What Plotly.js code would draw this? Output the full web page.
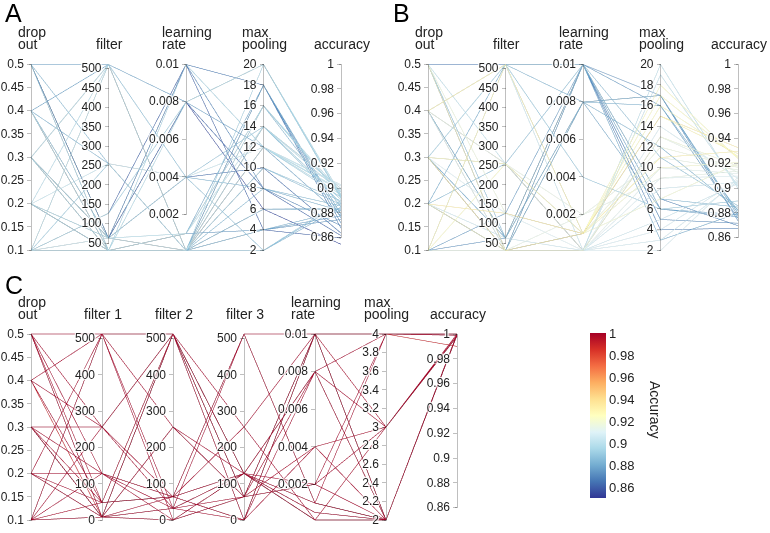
<!DOCTYPE html>
<html>
<head>
<meta charset="utf-8">
<script src="https://cdn.plot.ly/plotly-3.0.1.min.js"></script>
<style>
html,body{margin:0;padding:0;background:#fff;}
#wrap{position:relative;width:770px;height:533px;overflow:hidden;}
#pA{position:absolute;left:0;top:0;width:385px;height:270px;}
#pB{position:absolute;left:385px;top:0;width:385px;height:270px;}
#pC{position:absolute;left:0;top:270px;width:770px;height:263px;}
</style>
</head>
<body>
<div id="wrap"><div id="pA"></div><div id="pB"></div><div id="pC"></div></div>
<script>
// ---- Panel A ----
var aDrop   = [0.5,0.5,0.5,0.5,0.4,0.4,0.4,0.4,0.4,0.3,0.3,0.3,0.3,0.2,0.2,0.2,0.2,0.1,0.1,0.1,0.1,0.1,0.1,0.5,0.4,0.3,0.2,0.1,0.4,0.3,0.1,0.5,0.2,0.1,0.3,0.4,0.2,0.1,0.5,0.3];
var aFilter = [64,64,32,256,512,64,32,32,256,512,64,32,32,512,256,32,64,512,128,128,64,32,256,64,64,64,32,32,32,32,64,32,64,512,512,32,32,32,512,64];
var aLr     = [0.008,0.008,0.0001,0.0001,0.008,0.004,0.0001,0.001,0.004,0.0001,0.01,0.0001,0.001,0.0001,0.004,0.0001,0.001,0.0001,0.01,0.008,0.0001,0.0001,0.0001,0.01,0.0001,0.004,0.01,0.001,0.0001,0.008,0.0001,0.0001,0.0001,0.004,0.0001,0.0001,0.001,0.0001,0.0001,0.0001];
var aPool   = [6,8,18,16,12,14,12,14,8,20,18,10,4,14,12,2,16,12,4,20,14,6,2,8,18,10,12,16,4,20,12,14,8,2,12,6,18,10,4,16];
var aAcc    = [0.855,0.862,0.872,0.885,0.878,0.888,0.895,0.9,0.882,0.893,0.868,0.89,0.875,0.897,0.902,0.885,0.895,0.899,0.86,0.892,0.9,0.883,0.89,0.87,0.876,0.864,0.893,0.897,0.882,0.895,0.903,0.891,0.886,0.888,0.898,0.884,0.879,0.887,0.878,0.894];

// ---- Panel B ----
var bDrop   = [0.5,0.5,0.5,0.4,0.4,0.4,0.4,0.3,0.3,0.3,0.3,0.2,0.2,0.2,0.1,0.1,0.1,0.5,0.4,0.3,0.2,0.1,0.5,0.4,0.3,0.2,0.1,0.3,0.5,0.4,0.2,0.1,0.3,0.2,0.4,0.1,0.5,0.3];
var bFilter = [64,32,256,512,32,64,256,256,32,32,128,512,128,32,256,512,32,512,32,64,32,64,32,512,512,256,32,32,128,64,64,512,32,32,256,128,32,256];
var bLr     = [0.01,0.008,0.0001,0.001,0.01,0.008,0.002,0.001,0.01,0.001,0.0001,0.01,0.001,0.0001,0.001,0.008,0.0001,0.01,0.0001,0.008,0.001,0.01,0.0001,0.0001,0.004,0.01,0.002,0.0001,0.001,0.01,0.0001,0.001,0.008,0.0001,0.0001,0.01,0.001,0.0001];
var bPool   = [7,17,20,15,6,16,11,17,5,11,9,3,15,13,18,12,8,4,10,6,7,17,14,19,6,11,9,3,12,7,5,16,17,2,13,16,10,4];
var bAcc    = [0.885,0.878,0.9,0.928,0.877,0.882,0.915,0.925,0.872,0.93,0.91,0.88,0.933,0.918,0.924,0.883,0.905,0.868,0.912,0.879,0.92,0.874,0.908,0.902,0.89,0.886,0.914,0.906,0.917,0.87,0.904,0.926,0.88,0.909,0.913,0.876,0.921,0.907];

// ---- Panel C ----
var cDrop   = [0.5,0.5,0.5,0.5,0.4,0.4,0.4,0.3,0.3,0.3,0.3,0.3,0.2,0.2,0.2,0.2,0.1,0.1,0.1,0.1,0.1,0.1,0.5,0.2,0.4,0.3,0.1,0.5];
var cF1     = [512,8,48,128,512,256,8,256,128,8,48,8,512,128,8,48,512,256,128,8,48,8,8,8,48,8,512,256];
var cF2     = [512,256,64,32,0,32,512,512,64,64,512,32,256,0,512,64,32,512,64,256,512,0,512,32,64,0,512,64];
var cF3     = [64,128,0,512,64,128,0,128,256,512,64,128,64,128,256,0,64,0,128,64,128,64,128,0,512,128,64,128];
var cLr     = [0.01,0.008,0.01,0.001,0.002,0.0001,0.01,0.008,0.01,0.001,0.004,0.0005,0.01,0.001,0.0001,0.008,0.002,0.01,0.0005,0.008,0.0001,0.01,0.001,0.004,0.01,0.002,0.01,0.0001];
var cPool   = [4,2,3,2,3,2,4,2,4,2,3,2,2,4,2,3,4,2,2,4,3,2,2,2,4,2,4,2];
var cAcc    = [1.0,0.999,0.998,1.0,0.999,1.0,0.99,1.0,0.999,1.0,0.998,1.0,1.0,0.999,1.0,1.0,1.0,0.999,1.0,1.0,0.998,1.0,1.0,0.999,1.0,1.0,1.0,1.0];

// ---- Axis titles (two lines each) ----
var labelsAB = [['drop','out'],['','filter'],['learning','rate'],['max','pooling'],['','accuracy']];
var labelsC  = [['drop','out'],['','filter 1'],['','filter 2'],['','filter 3'],['learning','rate'],['max','pooling'],['','accuracy']];

// ---- Tick labels ----
var dropTicks = [0.1,0.15,0.2,0.25,0.3,0.35,0.4,0.45,0.5];
var filterTicks = [50,100,150,200,250,300,350,400,450,500];
var filterTicksC = [0,100,200,300,400,500];
var lrTicks = [0.002,0.004,0.006,0.008,0.01];
var poolTicks = [2,4,6,8,10,12,14,16,18,20];
var poolTicksC = [2,2.2,2.4,2.6,2.8,3,3.2,3.4,3.6,3.8,4];
var accTicks = [0.86,0.88,0.9,0.92,0.94,0.96,0.98,1];

var colorscale = [
  [0.0,'#313695'],[0.1,'#4575b4'],[0.2,'#74add1'],[0.3,'#abd9e9'],[0.4,'#e0f3f8'],
  [0.5,'#ffffbf'],[0.6,'#fee090'],[0.7,'#fdae61'],[0.8,'#f46d43'],[0.9,'#d73027'],[1.0,'#a50026']
];

function txt(a){return a.map(function(v){return String(v);});}

var font = 'Liberation Sans, Arial, sans-serif';
var tickfont = {family: font, size: 12, color: '#222'};
var labelfont = {family: font, size: 1, color: 'rgba(0,0,0,0)'};
var hiddenRange = {size: 1, color: 'rgba(0,0,0,0)'};
var titleSize = 14;

var mctx = document.createElement('canvas').getContext('2d');
mctx.font = titleSize + 'px "Liberation Sans", Arial, sans-serif';
function tw(s){ return mctx.measureText(s).width; }

// Build left-aligned two-line title annotations centred on each axis
function titleAnns(labels, domX, W, H, y1, y2){
  var n = labels.length, out = [];
  for (var i = 0; i < n; i++){
    var ax = (domX[0] + i*(domX[1]-domX[0])/(n-1)) * W;
    var l = labels[i];
    var wmax = Math.max(tw(l[0]), tw(l[1]));
    var left = ax - wmax/2;
    [[l[0], y1], [l[1], y2]].forEach(function(p){
      if (!p[0]) return;
      out.push({text:p[0], x:left/W, y:1-p[1]/H, xref:'paper', yref:'paper', xanchor:'left', yanchor:'middle',
                showarrow:false, borderpad:0, font:{family:font, size:titleSize, color:'#222'}});
    });
  }
  return out;
}

function dimsAB(drop, filt, lr, pool, acc){
  return [
    {label:'', values: drop, range:[0.1,0.5], tickvals: dropTicks, ticktext: txt(dropTicks)},
    {label:'', values: filt, range:[32,512], tickvals: filterTicks, ticktext: txt(filterTicks)},
    {label:'', values: lr, range:[0.0001,0.01], tickvals: lrTicks, ticktext: txt(lrTicks)},
    {label:'', values: pool, range:[2,20], tickvals: poolTicks, ticktext: txt(poolTicks)},
    {label:'', values: acc, range:[0.85,1], tickvals: accTicks, ticktext: txt(accTicks)}
  ];
}

function letter(t, x, y){
  return {text:t, x:x, y:y, xref:'paper', yref:'paper', xanchor:'left', yanchor:'top', showarrow:false,
          font:{family: font, size: 25, color:'#000'}};
}

function baseLayout(w, h, ann){
  return {width:w, height:h, margin:{l:0,r:0,t:0,b:0}, paper_bgcolor:'#fff', plot_bgcolor:'#fff',
          font:{family: font, color:'#222'}, showlegend:false, annotations: ann};
}

var cfg = {displayModeBar:false};

// Panel A (div 385x270)
var domA = [31/385, 341/385];
Plotly.newPlot('pA', [{
  type:'parcoords',
  domain:{x:domA, y:[1-252/270, 1-62/270]},
  dimensions: dimsAB(aDrop, aFilter, aLr, aPool, aAcc),
  line:{color:aAcc, colorscale:colorscale, cmin:0.85, cmax:1, showscale:false},
  labelfont:labelfont, tickfont:tickfont, rangefont:hiddenRange
}], baseLayout(385, 270, [letter('A', 3/385, 1+3/270)].concat(titleAnns(labelsAB, domA, 385, 270, 32, 44))), cfg);

// Panel B
var domB = [43/385, 353/385];
Plotly.newPlot('pB', [{
  type:'parcoords',
  domain:{x:domB, y:[1-252/270, 1-62/270]},
  dimensions: dimsAB(bDrop, bFilter, bLr, bPool, bAcc),
  line:{color:bAcc, colorscale:colorscale, cmin:0.85, cmax:1, showscale:false},
  labelfont:labelfont, tickfont:tickfont, rangefont:hiddenRange
}], baseLayout(385, 270, [letter('B', 6/385, 1+3/270)].concat(titleAnns(labelsAB, domB, 385, 270, 32, 44))), cfg);

// Panel C (div 770x263)
var domC = [31/770, 457/770];
var layoutC = baseLayout(770, 263, [
  letter('C', 3/770, 1+1/263),
  {text:'Accuracy', x:655/770, y:1-140/263, xref:'paper', yref:'paper', xanchor:'center', yanchor:'middle',
   showarrow:false, textangle:90, font:{family: font, size: 14, color:'#222'}}
].concat(titleAnns(labelsC, domC, 770, 263, 32, 44)));
Plotly.newPlot('pC', [{
  type:'parcoords',
  domain:{x:domC, y:[1-252/263, 1-62/263]},
  dimensions:[
    {label:'', values:cDrop, range:[0.1,0.5], tickvals:dropTicks, ticktext:txt(dropTicks)},
    {label:'', values:cF1, range:[0,512], tickvals:filterTicksC, ticktext:txt(filterTicksC)},
    {label:'', values:cF2, range:[0,512], tickvals:filterTicksC, ticktext:txt(filterTicksC)},
    {label:'', values:cF3, range:[0,512], tickvals:filterTicksC, ticktext:txt(filterTicksC)},
    {label:'', values:cLr, range:[0.0001,0.01], tickvals:lrTicks, ticktext:txt(lrTicks)},
    {label:'', values:cPool, range:[2,4], tickvals:poolTicksC, ticktext:txt(poolTicksC)},
    {label:'', values:cAcc, range:[0.85,1], tickvals:accTicks, ticktext:txt(accTicks)}
  ],
  line:{color:cAcc, colorscale:colorscale, cmin:0.85, cmax:1, showscale:true,
    colorbar:{x:590/770, xanchor:'left', y:1-63/263, yanchor:'top', len:165, lenmode:'pixels',
      thickness:16, thicknessmode:'pixels', outlinewidth:0, xpad:0, ypad:0,
      tickvals:accTicks, ticktext:txt(accTicks), ticks:'', tickfont:{family:font, size:13, color:'#222'},
      title:{text:''}}},
  labelfont:labelfont, tickfont:tickfont, rangefont:hiddenRange
}], layoutC, cfg);
</script>
</body>
</html>
